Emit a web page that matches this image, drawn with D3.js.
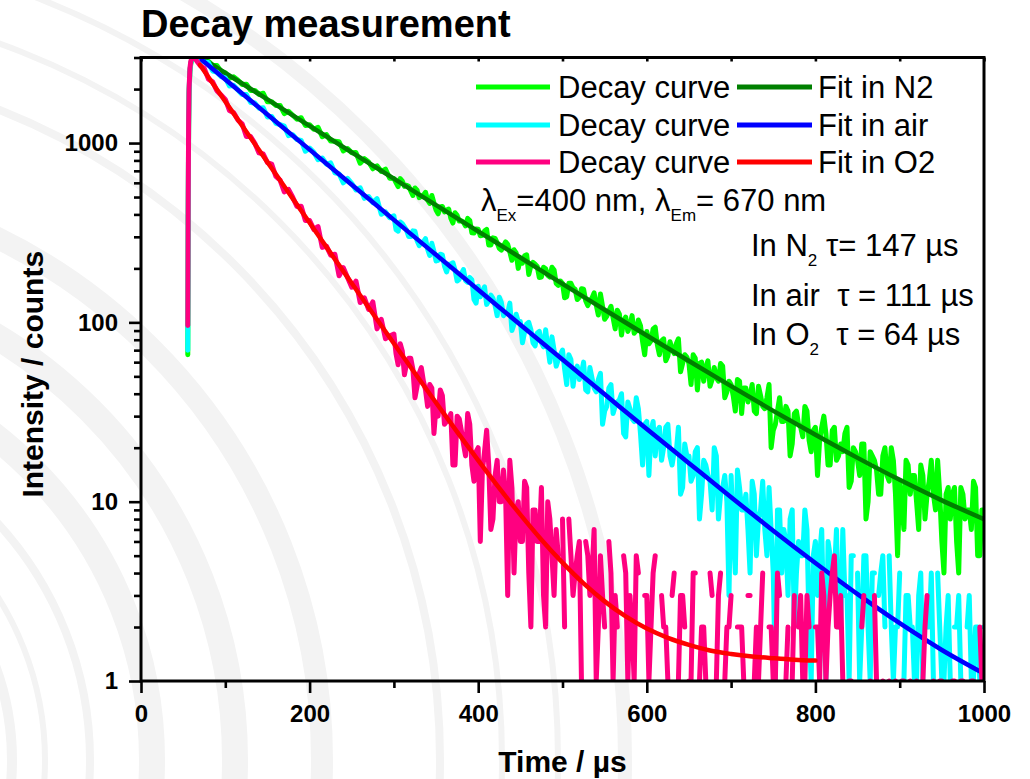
<!DOCTYPE html>
<html><head><meta charset="utf-8">
<script src="https://cdn.jsdelivr.net/npm/d3@7"></script>
<style>
body{margin:0;background:#fff}
svg{display:block}
text{font-family:"Liberation Sans",Arial,Helvetica,sans-serif;white-space:pre}
</style>
</head><body>
<svg id="chart" width="1030" height="779"></svg>
<script>
// ---------- data ----------
// time grid: rise points, then 5 µs steps to 295 µs, then 2.5 µs steps to 1000 µs
const riseTimes = [55.5, 56, 56.5, 57, 58, 59, 60, 62, 64, 66];
const coarseStart = 70, coarseEnd = 295, coarseStep = 5;
const fineStart = 300, fineEnd = 1000, fineStep = 2.5;

const greenCounts = [66, 400, 1200, 1900, 2500, 2750, 2880, 2960, 2990, 2985,
2960, 2856, 2860, 2713, 2709, 2509, 2464, 2299, 2341, 2240,
2124, 2130, 1966, 1965, 1870, 1896, 1697, 1701, 1620, 1621,
1458, 1504, 1428, 1358, 1385, 1254, 1265, 1195, 1223, 1086,
1115, 1026, 1023, 1018, 904, 931, 882, 885, 772, 819,
784, 719, 746, 695, 716, 637,
635,602, 572,633, 613,574, 581,574, 541,510, 562,546, 496,505, 512,531, 480,461, 510,463,
423,403, 440,443, 413,423, 428,381, 358,409, 395,367, 368,362, 345,380, 370,316, 315,332,
331,304, 306,323, 330,270, 270,296, 294,278, 259,253, 266,281, 272,247, 222,254, 244,200,
227,214, 235,238, 185,207, 216,211, 205,178, 179,203, 199,183, 179,203, 196,165, 161,170,
165,137, 139,165, 165,156, 153,134, 138,154, 153,132, 124,132, 137,146, 125,110, 144,123,
104,108, 116,123, 106,92, 117,111, 85,102, 107,89, 96,109, 87,90, 103,96, 78,66,
89,76, 79,92, 94,75, 66,79, 81,61, 65,78, 71,67, 76,81, 53,59, 66,64,
59,45, 66,63, 42,59, 60,47, 56,61, 44,48, 56,49, 47,59, 57,38, 41,47,
45,39, 32,48, 47,31, 43,43, 36,39, 45,32, 31,44, 39,34, 33,38, 45,20,
25,27, 32,38, 28,28, 34,32, 18,21, 31,32, 27,26, 23,34, 32,22, 19,25,
26,14, 22,26, 30,24, 16,16, 25,26, 17,18, 21,19, 24,26, 12,13, 20,19,
17,14, 21,21, 8,10, 19,18, 17,15, 11,11, 18,20, 14,13, 20,17, 11,5,
13,10, 7,17, 16,11, 14,14, 10,7, 16,14, 8,11, 13,17, 11,9, 17,11,
6,4, 11,12, 8,11, 12,6, 4,12, 11,8, 9,9, 7,13, 12,5, 5,9,
9];

const cyanCounts = [70, 450, 1250, 1950, 2520, 2780, 2900, 2970, 2990, 2980,
2950, 2828, 2813, 2523, 2485, 2347, 2310, 2079, 2099, 1976,
1863, 1866, 1685, 1671, 1566, 1574, 1396, 1408, 1289, 1267,
1242, 1100, 1114, 1046, 1035, 900, 937, 888, 808, 826,
762, 775, 683, 673, 600, 635, 596, 548, 563, 492,
503, 466, 490, 401, 413, 383,
393,329, 323,363, 355,341, 327,301, 301,324, 322,285, 268,279, 281,293, 256,236, 276,249,
220,222, 240,238, 206,191, 211,212, 215,196, 170,174, 187,197, 171,167, 178,173, 134,128,
159,139, 149,158, 126,132, 142,136, 125,109, 138,129, 109,113, 112,128, 90,98, 111,101,
101,77, 88,98, 100,91, 77,74, 87,89, 77,73, 91,73, 60,83, 70,57, 62,66,
70,55, 45,66, 62,44, 54,57, 48,52, 60,42, 41,56, 49,43, 41,48, 52,27,
32,34, 43,45, 31,34, 36,37, 40,24, 23,36, 33,29, 28,38, 33,24, 16,27,
28,14, 25,28, 18,25, 26,17, 20,26, 27,18, 16,19, 19,26, 11,12, 21,18,
18,13, 14,19, 20,8, 11,17, 16,14, 13,9, 20,18, 8,11, 12,14, 10,3,
14,7, 4,15, 12,9, 9,11, 7,4, 13,11, 5,8, 9,13, 7,5, 12,7,
4,1, 9,9, 4,7, 6,3, 8,9, 2,4, 6,5, 5,9, 7,2, 1,5,
6,3, 5,7, 2,1, 6,5, 4,4, 7,2, 2,7, 3,3, 1,5, 5,0,
4,1, 2,5, 5,2, 1,4, 4,0, 3,4, 5,2, 0,5, 2,1, 2,2,
4,0, 1,3, 3,2, 2,1, 1,3, 4,1, 0,2, 2,4, 1,0, 4,2,
1,1, 2,3, 1,0, 2,2, 3,1, 0,0, 2,3, 1,1, 2,2, 1,0,
2];

const pinkCounts = [96, 500, 1300, 2000, 2600, 2850, 2950, 2990, 2960, 2880,
2711, 2608, 2275, 2195, 1960, 1854, 1752, 1519, 1476, 1343,
1281, 1088, 1088, 998, 881, 869, 777, 764, 651, 621,
534, 551, 499, 443, 444, 370, 370, 330, 342, 262,
266, 237, 240, 182, 202, 178, 157, 170, 129, 137,
118, 130, 92, 104, 81, 84,
86,67, 58,76, 69,51, 59,63, 63,55, 38,44, 52,56, 47,42, 34,45, 43,24,
34,30, 42,39, 27,28, 29,31, 16,16, 30,29, 25,21, 18,31, 27,16, 13,19,
20,6, 15,19, 25,16, 7,8, 14,17, 10,10, 15,11, 3,17, 12,4, 9,10,
6,6, 13,12, 4,2, 9,9, 6,6, 12,3, 2,10, 8,5, 3,7, 5,0,
8,2, 0,8, 5,3, 4,5, 6,1, 0,6, 5,3, 4,7, 1,2, 5,3,
2,0, 6,4, 1,3, 2,0, 0,5, 4,1, 3,2, 1,5, 4,0, 0,3,
3,1, 2,4, 5,0, 0,3, 2,2, 1,0, 3,4, 0,1, 3,3, 2,0,
1,1, 4,4, 0,1, 2,2, 1,0, 4,3, 0,1, 3,4, 0,1, 2,2,
3,0, 0,2, 2,2, 1,0, 3,3, 0,1, 2,1, 2,4, 0,0, 2,2,
1,1, 4,3, 0,0, 1,2, 0,1, 3,0, 2,3, 1,1, 3,2, 0,0,
2,2, 1,4, 3,1, 2,3, 4,5, 2,2, 3,1, 0,0, 1,1, 0,0,
0,0, 2,3, 0,0, 1,0, 3,1, 0,0, 1,0, 0,1, 0,0, 1,0,
0,1, 1,0, 0,1, 0,0, 1,0, 0,1, 2,3, 0,0, 1,0, 0,1,
1,0, 0,0, 0,1, 1,0, 0,1, 1,0, 0,0, 1,1, 0,0, 2,1,
1];

const fitN2Times = [76, 100, 150, 200, 250, 300, 350, 400, 450, 500, 550, 600, 650, 700, 750, 800, 850, 900, 950, 1000];
const fitN2Values = [2895, 2459, 1751, 1247, 888, 633, 451, 322, 230, 164, 117.6, 84.5, 60.9, 44.1, 32.1, 23.6, 17.55, 13.24, 10.17, 7.99];
const fitAirTimes = [72, 100, 150, 200, 250, 300, 350, 400, 450, 500, 550, 600, 650, 700, 750, 800, 850, 900, 950, 1000];
const fitAirValues = [2911, 2262, 1442, 919, 586, 373, 238, 152, 97.0, 62.0, 39.7, 25.4, 16.4, 10.6, 6.89, 4.55, 3.05, 2.10, 1.49, 1.10];
const fitO2Times = [70, 100, 125, 150, 175, 200, 225, 250, 275, 300, 325, 350, 375, 400, 425, 450, 475, 500, 525, 550, 575, 600, 625, 650, 675, 700, 725, 750, 775, 800];
const fitO2Values = [2727, 1707, 1156, 782.6, 530, 359, 243.3, 165.1, 112.1, 76.3, 52.0, 35.6, 24.5, 17.0, 11.9, 8.47, 6.14, 4.57, 3.50, 2.78, 2.29, 1.96, 1.74, 1.59, 1.48, 1.415, 1.37, 1.34, 1.315, 1.30];

const xMajorTicks = [0, 200, 400, 600, 800, 1000];
const xMinorTicks = [100, 300, 500, 700, 900];
const yMajorTicks = [1, 10, 100, 1000];
const yMinorTicks = [2,3,4,5,6,7,8,9,20,30,40,50,60,70,80,90,200,300,400,500,600,700,800,900,2000,3000];

const legendData = ["Decay curve", "Decay curve", "Decay curve"];
const legendFit = ["Fit in N2", "Fit in air", "Fit in O2"];
const dataColors = ["#00ff00", "#00ffff", "#ff0080"];
const fitColors = ["#008000", "#0000ff", "#ff0000"];

// ---------- layout ----------
const svg = d3.select("#chart");
const L = 141, R = 984, T = 57.5, B = 681;
const x = d3.scaleLinear().domain([0, 1000]).range([L, R]);
const y = d3.scaleLog().domain([1, 3000]).range([B, T]);

// faint watermark rings in the background
const rings = [[272,10],[305,6],[350,8],[412,26],[495,26],[582,22],[700,8],[762,6],[818,6],[885,14]];
const wm = svg.append("g");
rings.forEach(([r,w]) => wm.append("circle").attr("cx", -260).attr("cy", 760).attr("r", r)
  .attr("fill", "none").attr("stroke", "#f3f3f3").attr("stroke-width", w));

svg.append("clipPath").attr("id", "plotclip").append("rect")
  .attr("x", L).attr("y", T).attr("width", R - L).attr("height", B - T);

const allTimes = riseTimes
  .concat(d3.range(coarseStart, coarseEnd + 0.01, coarseStep))
  .concat(d3.range(fineStart, fineEnd + 0.01, fineStep));
function series(counts) { return counts.map((v, i) => [allTimes[i], v]); }
const dataLine = d3.line().defined(d => d[1] > 0).x(d => x(d[0])).y(d => y(d[1]));
const fitLine = d3.line().curve(d3.curveMonotoneX).x(d => x(d[0])).y(d => y(d[1]));

const plot = svg.append("g").attr("clip-path", "url(#plotclip)");
const seriesList = [
  {kind: "data", pts: series(greenCounts), color: dataColors[0]},
  {kind: "fit", pts: fitN2Times.map((t, i) => [t, fitN2Values[i]]), color: fitColors[0]},
  {kind: "data", pts: series(cyanCounts), color: dataColors[1]},
  {kind: "fit", pts: fitAirTimes.map((t, i) => [t, fitAirValues[i]]), color: fitColors[1]},
  {kind: "data", pts: series(pinkCounts), color: dataColors[2]},
  {kind: "fit", pts: fitO2Times.map((t, i) => [t, fitO2Values[i]]), color: fitColors[2]},
];
seriesList.forEach(s => {
  plot.append("path").attr("d", (s.kind === "data" ? dataLine : fitLine)(s.pts))
    .attr("fill", "none").attr("stroke", s.color)
    .attr("stroke-width", s.kind === "data" ? 5 : 4.5)
    .attr("stroke-linejoin", "round").attr("stroke-linecap", "round");
});

// ---------- axes ----------
const axStyle = g => {
  g.select(".domain").remove();
  g.selectAll(".tick line").attr("stroke", "#000").attr("stroke-width", 2.6);
  g.selectAll("text").attr("fill", "#000").attr("font-weight", "bold").attr("font-size", 24)
    .attr("font-family", "'Liberation Sans', Arial, sans-serif");
};
svg.append("g").attr("transform", `translate(0,${B})`)
  .call(d3.axisBottom(x).tickValues(xMajorTicks).tickSize(12).tickPadding(12).tickFormat(d3.format("d"))).call(axStyle);
svg.append("g").attr("transform", `translate(0,${B})`)
  .call(d3.axisBottom(x).tickValues(xMinorTicks).tickSize(7).tickFormat("")).call(axStyle);
svg.append("g").attr("transform", `translate(${L},0)`)
  .call(d3.axisLeft(y).tickValues(yMajorTicks).tickSize(12).tickPadding(11).tickFormat(d3.format("d"))).call(axStyle);
svg.append("g").attr("transform", `translate(${L},0)`)
  .call(d3.axisLeft(y).tickValues(yMinorTicks).tickSize(7).tickFormat("")).call(axStyle);
svg.append("g").attr("transform", `translate(0,${T})`)
  .call(d3.axisBottom(x).tickValues(xMajorTicks.concat(xMinorTicks)).tickSize(4).tickFormat("")).call(axStyle);

// frame
svg.append("rect").attr("x", L).attr("y", T).attr("width", R - L).attr("height", B - T)
  .attr("fill", "none").attr("stroke", "#000").attr("stroke-width", 3);

// ---------- titles ----------
svg.append("text").attr("x", 141).attr("y", 37).attr("font-size", 38).attr("font-weight", "bold")
  .text("Decay measurement");
svg.append("text").attr("x", (L + R) / 2).attr("y", 772).attr("text-anchor", "middle")
  .attr("font-size", 30).attr("font-weight", "bold").text("Time / µs");
svg.append("text").attr("transform", `translate(43,${(T + B) / 2 + 5}) rotate(-90)`)
  .attr("text-anchor", "middle").attr("font-size", 30).attr("font-weight", "bold").text("Intensity / counts");

// ---------- legend ----------
const rowY = [87, 125, 162];
const lg = svg.append("g");
rowY.forEach((ry, i) => {
  lg.append("line").attr("x1", 476).attr("x2", 550).attr("y1", ry).attr("y2", ry)
    .attr("stroke", dataColors[i]).attr("stroke-width", 5);
  lg.append("text").attr("x", 558).attr("y", ry + 11).attr("font-size", 31).text(legendData[i]);
  lg.append("line").attr("x1", 737).attr("x2", 812).attr("y1", ry).attr("y2", ry)
    .attr("stroke", fitColors[i]).attr("stroke-width", 5);
  lg.append("text").attr("x", 818).attr("y", ry + 11).attr("font-size", 31).text(legendFit[i]);
});

// ---------- annotations ----------
function rich(xp, yp, parts) {
  const t = svg.append("text").attr("x", xp).attr("y", yp).attr("font-size", 31);
  let shift = 0;
  parts.forEach(p => {
    const off = p.sub ? 10 : 0;
    t.append("tspan").attr("dy", off - shift).attr("font-size", p.sub ? 17 : 31).text(p.s);
    shift = off;
  });
}
rich(481, 211, [{s: "λ"}, {s: "Ex", sub: true}, {s: "=400 nm, λ"}, {s: "Em", sub: true}, {s: "= 670 nm"}]);
rich(751, 256, [{s: "In N"}, {s: "2", sub: true}, {s: " τ= 147 µs"}]);
rich(751, 306, [{s: "In air  τ = 111 µs"}]);
rich(751, 345, [{s: "In O"}, {s: "2", sub: true}, {s: "  τ = 64 µs"}]);
</script>
</body></html>
